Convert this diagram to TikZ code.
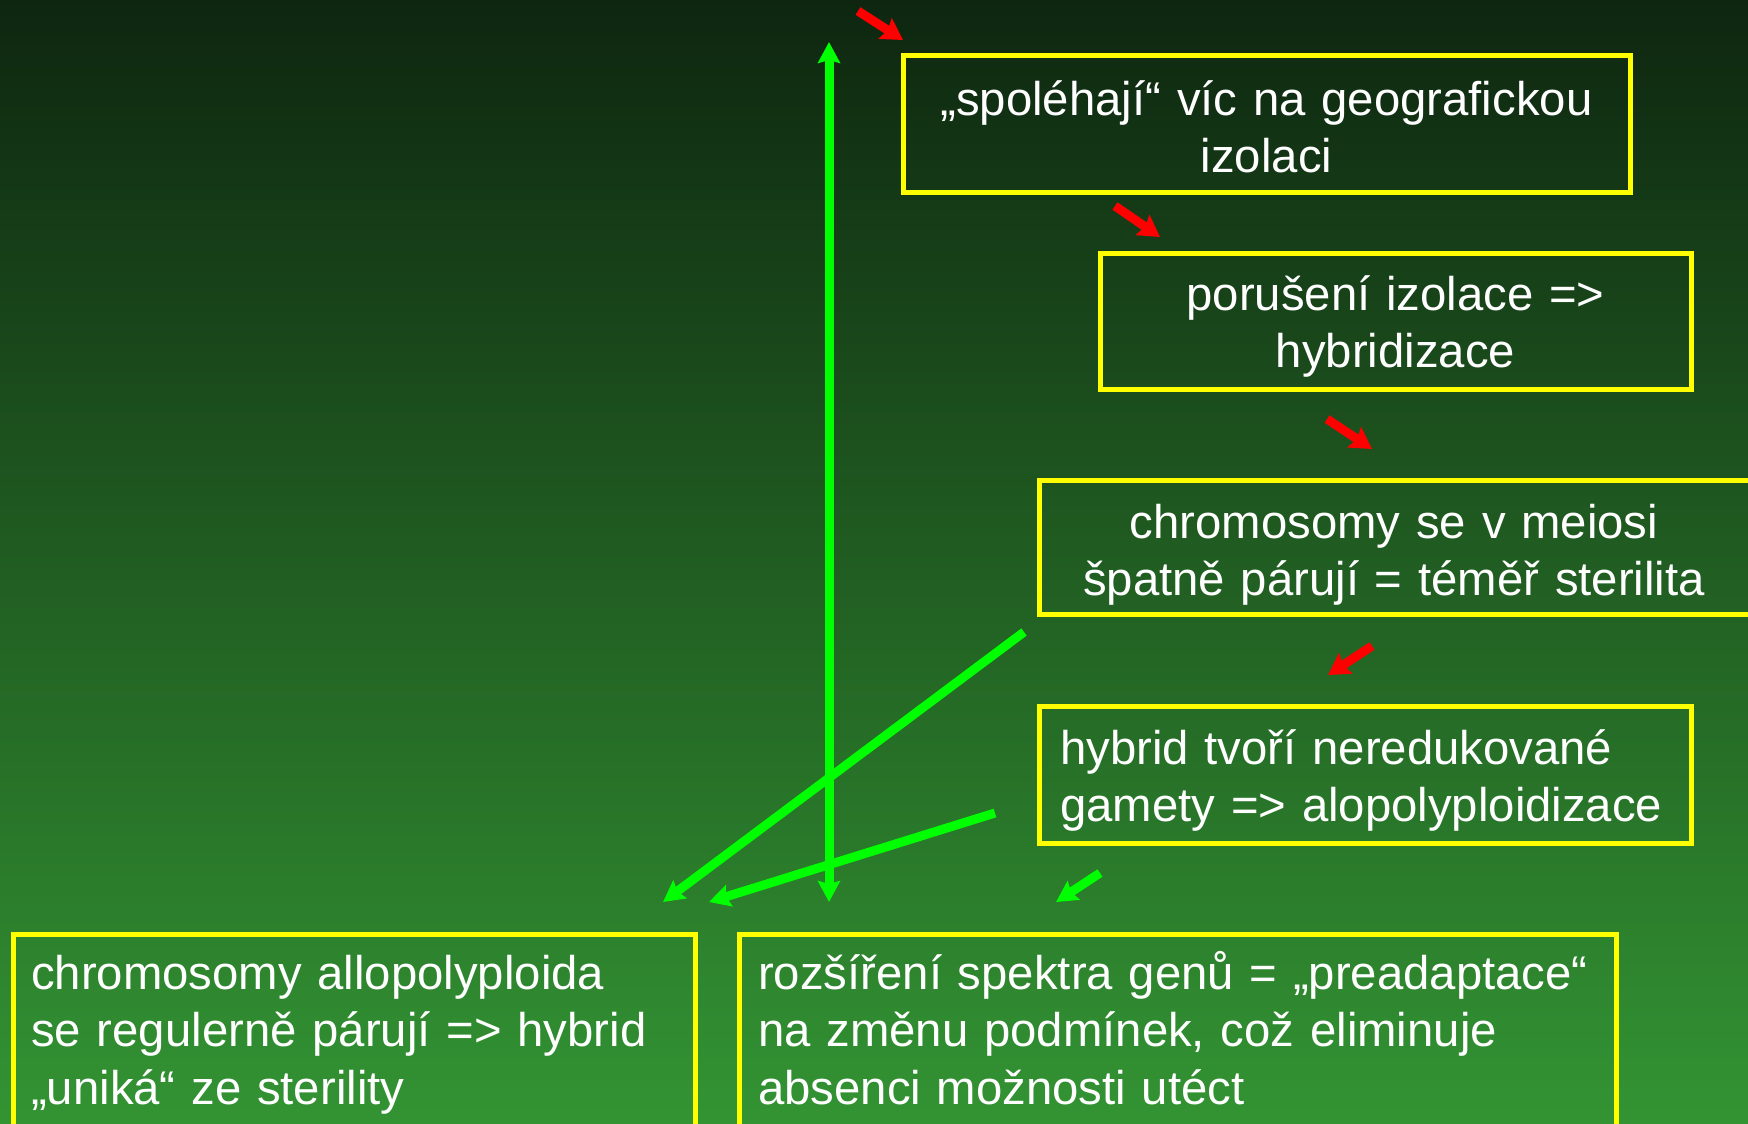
\documentclass[tikz,border=0pt]{standalone}
\usepackage{fontspec}
\setmainfont{Liberation Sans}
\usetikzlibrary{arrows.meta}
\definecolor{bgtop}{RGB}{14,38,16}
\definecolor{bgmid}{RGB}{34,100,36}
\definecolor{bgbot}{RGB}{51,148,51}
\definecolor{boxyellow}{RGB}{255,255,0}
\definecolor{arrred}{RGB}{255,0,0}
\definecolor{arrgreen}{RGB}{0,255,0}
\begin{document}
\begin{tikzpicture}[x=1pt,y=-1pt,
  box/.style={draw=boxyellow, line width=5pt, inner sep=0pt},
  txt/.style={inner sep=0pt, text=white, font=\fontsize{47.3}{57.5}\selectfont, align=left},
  ctxt/.style={inner sep=0pt, text=white, font=\fontsize{47.3}{57.5}\selectfont, align=center},
  redarr/.style={draw=arrred, line width=9pt, -{Stealth[length=21pt,width=24pt,inset=3pt]}},
  greenarr/.style={draw=arrgreen, line width=9pt, -{Stealth[length=21pt,width=22pt,inset=3pt]}},
  greenboth/.style={draw=arrgreen, line width=9pt, {Stealth[length=21pt,width=22pt,inset=3pt]}-{Stealth[length=21pt,width=22pt,inset=3pt]}}
]
\useasboundingbox (0,0) rectangle (1748,1124);
\clip (0,0) rectangle (1748,1124);
\shade[top color=bgtop, middle color=bgmid, bottom color=bgbot] (0,0) rectangle (1748,1124);

% boxes
\node[box, minimum width=727pt, minimum height=136pt] (b1) at (1266.5,124) {};
\node[ctxt, text width=700pt, anchor=base] (b1t) at (1266.5,115)
  {„spoléhají“ víc na geografickou\\izolaci};
\node[box, minimum width=591pt, minimum height=136pt] (b2) at (1395.5,321) {};
\node[ctxt, text width=570pt, anchor=base] (b2t) at (1395.5,310)
  {porušení izolace =>\\hybridizace};
\node[box, minimum width=713pt, minimum height=134pt] (b3) at (1395.5,547) {};
\node[ctxt, text width=690pt, anchor=base] (b3t) at (1394,538)
  {chromosomy se v meiosi\\špatně párují = téměř sterilita};
\node[box, minimum width=652pt, minimum height=137pt] (b4) at (1365,774.5) {};
\node[txt, text width=625pt, anchor=base west] (b4t) at (1060,764)
  {hybrid tvoří neredukované\\gamety => alopolyploidizace};
\node[box, minimum width=682pt, minimum height=260pt, anchor=north west] (b5) at (11,932) {};
\node[txt, text width=650pt, anchor=base west] (b5t) at (31,989)
  {chromosomy allopolyploida\\se regulerně párují => hybrid\\„uniká“ ze sterility};
\node[box, minimum width=877pt, minimum height=260pt, anchor=north west] (b6) at (737,932) {};
\node[txt, text width=850pt, anchor=base west] (b6t) at (758,989)
  {rozšíření spektra genů = „preadaptace“\\na změnu podmínek, což eliminuje\\absenci možnosti utéct};

% arrow end points
\coordinate (r1s) at (858,11);   \coordinate (r1e) at (903,40);
\coordinate (r2s) at (1115,206); \coordinate (r2e) at (1160,237);
\coordinate (r3s) at (1327,419); \coordinate (r3e) at (1372,449);
\coordinate (r4s) at (1372,646); \coordinate (r4e) at (1328,675);
\coordinate (g5s) at (1100,873); \coordinate (g5e) at (1056,902);
\coordinate (gvt) at (829,42);   \coordinate (gvb) at (829,902);
\coordinate (g1s) at (1024,632); \coordinate (g1e) at (663,902);
\coordinate (g2s) at (995,813);  \coordinate (g2e) at (709,902);

\draw[redarr] (r1s) -- (r1e);
\draw[redarr] (r2s) -- (r2e);
\draw[redarr] (r3s) -- (r3e);
\draw[redarr] (r4s) -- (r4e);
\draw[greenarr] (g5s) -- (g5e);
\draw[greenboth] (gvb) -- (gvt);
\draw[greenarr] (g1s) -- (g1e);
\draw[greenarr] (g2s) -- (g2e);
\end{tikzpicture}
\end{document}
